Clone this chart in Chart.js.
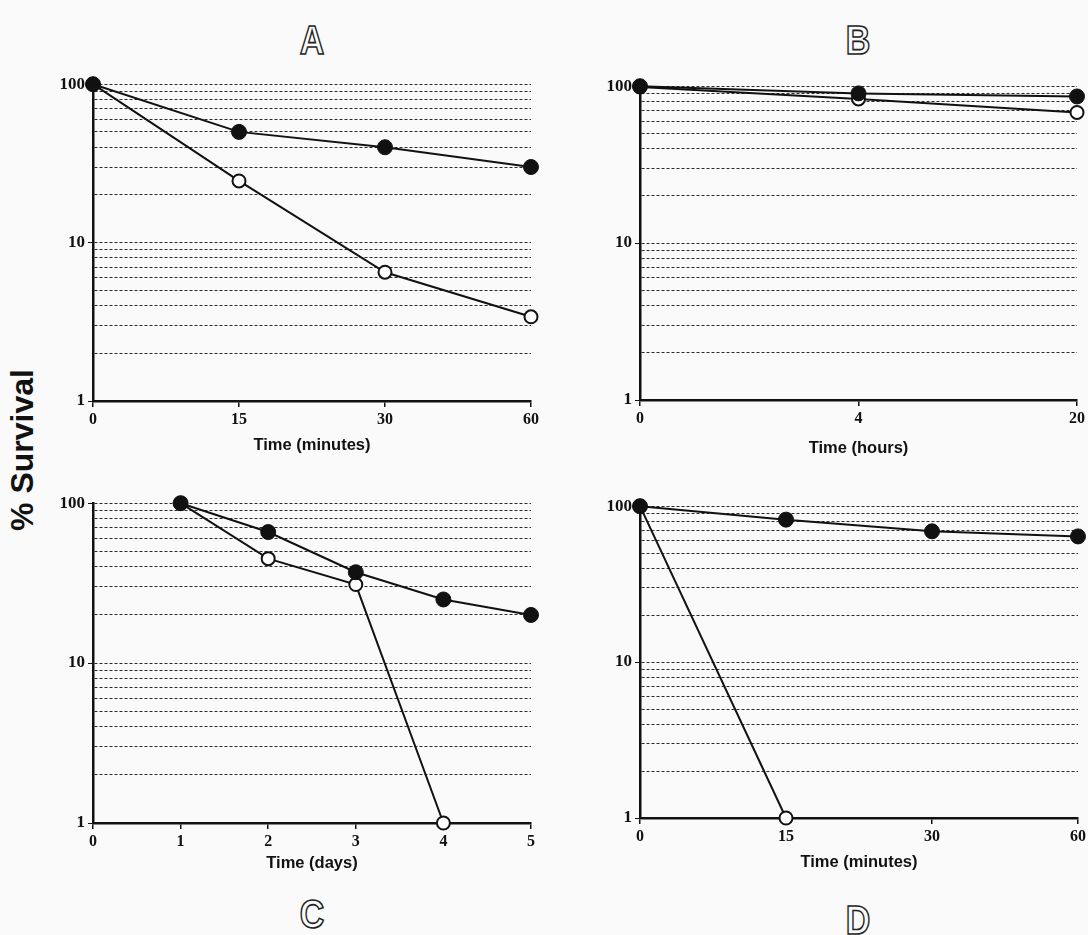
<!DOCTYPE html>
<html>
<head>
<meta charset="utf-8">
<title>% Survival</title>
<script src="https://cdn.jsdelivr.net/npm/chart.js@4"></script>
<style>
  body {
    margin: 0;
    width: 1088px;
    height: 935px;
    position: relative;
    overflow: hidden;
    background: #fafafa;
    font-family: "Liberation Sans", Arial, sans-serif;
  }
  canvas { position: absolute; }
  .letter {
    position: absolute;
    font: bold 40px "Liberation Sans", Arial, sans-serif;
    color: transparent;
    -webkit-text-stroke: 1.6px #222;
    transform: translate(-50%, -50%) scaleX(0.85);
  }
  #ylab {
    position: absolute;
    left: 22px;
    top: 450px;
    transform: translate(-50%, -50%) rotate(-90deg);
    font: bold 32px "Liberation Sans", Arial, sans-serif;
    color: #111;
    white-space: nowrap;
  }
</style>
</head>
<body>
<div class="letter" style="left:312px;top:40px">A</div>
<div class="letter" style="left:858px;top:40px">B</div>
<div class="letter" style="left:312px;top:914px">C</div>
<div class="letter" style="left:858px;top:920px">D</div>
<div id="ylab">% Survival</div>

<canvas id="panel-a"></canvas>
<canvas id="panel-b"></canvas>
<canvas id="panel-c"></canvas>
<canvas id="panel-d"></canvas>

<script>
// --- data ---
const yTickLabels = [1, 10, 100];

const timeA = ["0", "15", "30", "60"];
const filledA = [100, 50, 40, 30];
const openA = [100, 24.5, 6.5, 3.4];

const timeB = ["0", "4", "20"];
const filledB = [100, 90, 86];
const openB = [99, 83, 68];

const xTicksC = [0, 1, 2, 3, 4, 5];
const daysFilledC = [1, 2, 3, 4, 5];
const filledC = [100, 66, 37, 25, 20];
const daysOpenC = [1, 2, 3, 4];
const openC = [100, 45, 31, 1];

const timeD = ["0", "15", "30", "60"];
const filledD = [100, 82, 69, 64];
const openD = [100, 1];

// dotted grid at every log step 1..9 of each decade
const yGrid = [];
for (let d = 1; d < 100; d *= 10) {
  for (let n = 1; n <= 9; n++) yGrid.push(n * d);
}
yGrid.push(100);

const ink = "#111";
const serif = "'Liberation Serif', 'DejaVu Serif', serif";
const sans = "'Liberation Sans', Arial, sans-serif";

function filledSet(data) {
  return {
    data: data,
    borderColor: ink,
    borderWidth: 2,
    pointRadius: 7.5,
    pointBackgroundColor: ink,
    pointBorderColor: ink,
    pointBorderWidth: 1,
    tension: 0,
    clip: false,
  };
}

function openSet(data) {
  return {
    data: data,
    borderColor: ink,
    borderWidth: 2,
    pointRadius: 6.5,
    pointBackgroundColor: "#fff",
    pointBorderColor: ink,
    pointBorderWidth: 2,
    tension: 0,
    clip: false,
  };
}

function makePanel(id, area, xScale, labels, datasets, xTitle, titleGap) {
  const padTop = 12, padRight = 16, yW = 60;
  const xH = titleGap + 14;
  const cv = document.getElementById(id);
  const w = yW + (area.right - area.left) + padRight;
  const h = padTop + (area.bottom - area.top) + xH;
  cv.width = w;
  cv.height = h;
  cv.style.width = w + "px";
  cv.style.height = h + "px";
  cv.style.left = (area.left - yW) + "px";
  cv.style.top = (area.top - padTop) + "px";

  new Chart(cv, {
    type: "line",
    data: { labels: labels, datasets: datasets },
    options: {
      responsive: false,
      animation: false,
      layout: { padding: { top: padTop, right: padRight, left: 0, bottom: 0 } },
      plugins: { legend: { display: false }, tooltip: { enabled: false } },
      scales: {
        x: Object.assign({
          position: "bottom",
          afterFit: (s) => { s.height = xH; },
          grid: { drawOnChartArea: false, drawTicks: true, tickLength: 6, color: ink, lineWidth: 1.5 },
          border: { display: true, color: ink, width: 2.5 },
          ticks: { color: ink, padding: 3, maxRotation: 0, autoSkip: false,
                   font: { family: serif, weight: "bold", size: 16 } },
          title: { display: true, text: xTitle, color: ink,
                   font: { family: sans, weight: "bold", size: 16.5 },
                   padding: { top: 0, bottom: 4 } },
        }, xScale),
        y: {
          type: "logarithmic",
          position: "left",
          min: 1,
          max: 100,
          afterFit: (s) => { s.width = yW; },
          afterBuildTicks: (s) => { s.ticks = yGrid.map((v) => ({ value: v })); },
          grid: {
            color: "#2a2a2a",
            lineWidth: 1,
            drawTicks: true,
            tickLength: 5,
            tickColor: (c) => (yTickLabels.includes(c.tick.value) ? ink : "rgba(0,0,0,0)"),
          },
          border: { display: true, color: ink, width: 2.5, dash: [3, 2] },
          ticks: {
            autoSkip: false,
            color: ink,
            padding: 3,
            font: { family: serif, weight: "bold", size: 17 },
            callback: (v) => (yTickLabels.includes(v) ? String(v) : ""),
          },
        },
      },
    },
  });
}

const catX = { type: "category", offset: false };

makePanel("panel-a", { left: 93, right: 531, top: 83, bottom: 401 }, catX, timeA,
  [filledSet(filledA), openSet(openA)], "Time (minutes)", 44);

makePanel("panel-b", { left: 640, right: 1077, top: 85, bottom: 400 }, catX, timeB,
  [filledSet(filledB), openSet(openB)], "Time (hours)", 48);

makePanel("panel-c", { left: 93, right: 531, top: 502, bottom: 823 },
  {
    type: "linear",
    min: 0,
    max: 5,
    afterBuildTicks: (s) => { s.ticks = xTicksC.map((v) => ({ value: v })); },
  },
  undefined,
  [
    filledSet(daysFilledC.map((d, i) => ({ x: d, y: filledC[i] }))),
    openSet(daysOpenC.map((d, i) => ({ x: d, y: openC[i] }))),
  ],
  "Time (days)", 40);

makePanel("panel-d", { left: 640, right: 1078, top: 505, bottom: 818 }, catX, timeD,
  [filledSet(filledD), openSet(openD)], "Time (minutes)", 44);
</script>
</body>
</html>
